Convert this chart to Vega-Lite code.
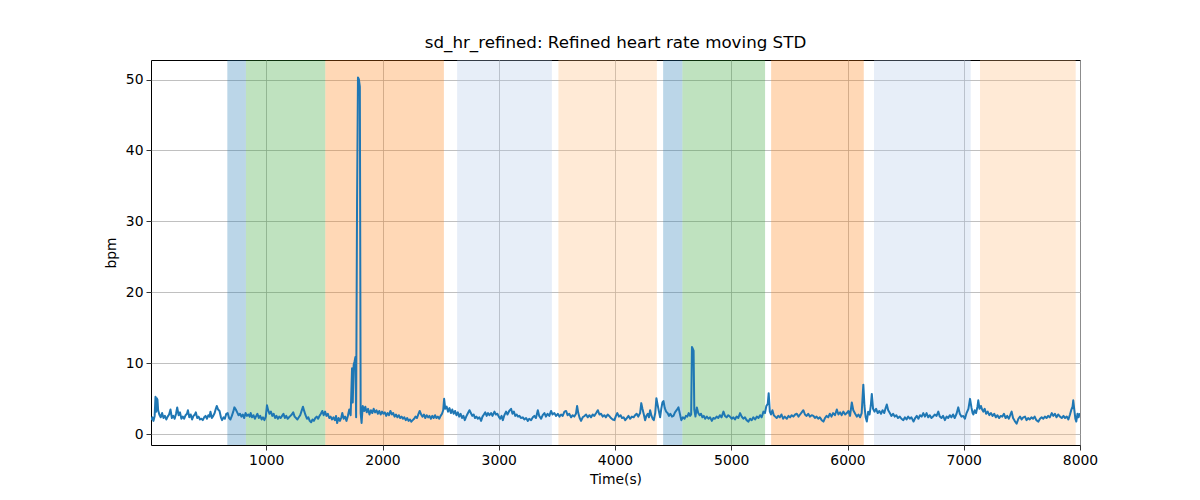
{
 "$schema": "https://vega.github.io/schema/vega-lite/v6.json",
 "width": 929,
 "height": 385,
 "autosize": {"type": "none"},
 "padding": {"left": 151, "top": 60, "right": 120, "bottom": 55},
 "title": {"text": "sd_hr_refined: Refined heart rate moving STD", "fontSize": 16.7, "fontWeight": "normal", "font": "DejaVu Sans", "color": "black", "offset": 8, "anchor": "middle"},
 "config": {
  "font": "DejaVu Sans",
  "view": {"stroke": "black", "strokeWidth": 1},
  "axis": {"domain": false, "grid": true, "gridColor": "#b0b0b0", "gridWidth": 0.8, "tickColor": "black", "tickSize": 5, "tickWidth": 0.8, "labelFontSize": 13.9, "labelColor": "black", "labelFont": "DejaVu Sans", "titleFontSize": 13.9, "titleFontWeight": "normal", "titleColor": "black", "titleFont": "DejaVu Sans", "labelPadding": 3, "zindex": 1}
 },
 "datasets": {
  "spans": [
   {"start": 665, "end": 825, "phase": "p1"},
   {"start": 825, "end": 1508, "phase": "p2"},
   {"start": 1508, "end": 2528, "phase": "p3"},
   {"start": 2642, "end": 3457, "phase": "p4"},
   {"start": 3513, "end": 4360, "phase": "p5"},
   {"start": 4414, "end": 4580, "phase": "p1"},
   {"start": 4580, "end": 5291, "phase": "p2"},
   {"start": 5343, "end": 6140, "phase": "p3"},
   {"start": 6228, "end": 7060, "phase": "p4"},
   {"start": 7140, "end": 7963, "phase": "p5"}
  ],
  "hr": [
{"t":10,"v":2.0},{"t":20,"v":2.4},{"t":30,"v":1.9},{"t":40,"v":2.6},{"t":47,"v":5.3},{"t":53,"v":3.2},{"t":58,"v":5.1},{"t":64,"v":4.9},{"t":70,"v":3.4},{"t":80,"v":2.8},{"t":92,"v":2.4},{"t":104,"v":3.0},{"t":116,"v":2.3},{"t":128,"v":2.6},{"t":140,"v":2.1},{"t":152,"v":2.5},{"t":164,"v":2.8},{"t":176,"v":3.5},{"t":188,"v":2.3},{"t":200,"v":2.6},{"t":212,"v":2.2},{"t":224,"v":2.9},{"t":234,"v":3.8},{"t":246,"v":2.7},{"t":258,"v":3.1},{"t":270,"v":2.2},{"t":282,"v":2.5},{"t":294,"v":2.2},{"t":306,"v":2.7},{"t":318,"v":2.9},{"t":326,"v":3.4},{"t":338,"v":2.4},{"t":350,"v":2.8},{"t":362,"v":2.1},{"t":374,"v":2.6},{"t":386,"v":2.8},{"t":394,"v":3.1},{"t":406,"v":2.3},{"t":418,"v":2.5},{"t":430,"v":2.1},{"t":442,"v":2.2},{"t":454,"v":2.0},{"t":466,"v":2.4},{"t":478,"v":2.6},{"t":490,"v":2.2},{"t":502,"v":2.7},{"t":512,"v":2.5},{"t":520,"v":3.2},{"t":532,"v":2.3},{"t":544,"v":2.6},{"t":556,"v":3.0},{"t":566,"v":3.6},{"t":574,"v":4.0},{"t":586,"v":3.5},{"t":598,"v":3.3},{"t":610,"v":2.4},{"t":620,"v":2.0},{"t":632,"v":2.4},{"t":644,"v":2.2},{"t":656,"v":2.9},{"t":668,"v":3.0},{"t":680,"v":2.3},{"t":692,"v":2.1},{"t":704,"v":2.6},{"t":716,"v":3.2},{"t":726,"v":3.8},{"t":738,"v":3.5},{"t":750,"v":3.1},{"t":762,"v":2.7},{"t":774,"v":2.9},{"t":786,"v":2.5},{"t":798,"v":2.8},{"t":810,"v":2.3},{"t":822,"v":3.0},{"t":834,"v":2.6},{"t":846,"v":2.8},{"t":858,"v":2.5},{"t":866,"v":3.0},{"t":878,"v":2.4},{"t":890,"v":2.7},{"t":902,"v":2.2},{"t":914,"v":2.6},{"t":924,"v":2.9},{"t":936,"v":2.3},{"t":948,"v":2.6},{"t":960,"v":2.1},{"t":972,"v":2.4},{"t":984,"v":2.0},{"t":996,"v":2.5},{"t":1006,"v":4.1},{"t":1016,"v":3.4},{"t":1028,"v":2.9},{"t":1040,"v":3.2},{"t":1052,"v":2.6},{"t":1064,"v":2.9},{"t":1076,"v":2.3},{"t":1088,"v":2.6},{"t":1100,"v":2.2},{"t":1112,"v":2.5},{"t":1124,"v":2.3},{"t":1136,"v":2.6},{"t":1148,"v":2.9},{"t":1160,"v":2.3},{"t":1172,"v":2.6},{"t":1184,"v":2.2},{"t":1196,"v":2.4},{"t":1208,"v":2.6},{"t":1220,"v":2.8},{"t":1232,"v":3.1},{"t":1244,"v":2.5},{"t":1256,"v":2.3},{"t":1268,"v":2.1},{"t":1280,"v":2.4},{"t":1292,"v":2.7},{"t":1304,"v":3.3},{"t":1316,"v":3.9},{"t":1326,"v":3.3},{"t":1338,"v":2.7},{"t":1350,"v":2.2},{"t":1362,"v":2.4},{"t":1374,"v":1.9},{"t":1386,"v":1.7},{"t":1398,"v":2.1},{"t":1410,"v":1.9},{"t":1422,"v":2.3},{"t":1434,"v":2.5},{"t":1446,"v":2.2},{"t":1458,"v":2.6},{"t":1470,"v":2.9},{"t":1482,"v":3.3},{"t":1494,"v":2.7},{"t":1506,"v":3.2},{"t":1518,"v":2.6},{"t":1530,"v":2.9},{"t":1542,"v":2.3},{"t":1554,"v":2.5},{"t":1566,"v":2.1},{"t":1578,"v":2.4},{"t":1590,"v":2.0},{"t":1600,"v":2.6},{"t":1610,"v":1.6},{"t":1622,"v":2.3},{"t":1634,"v":1.9},{"t":1646,"v":2.4},{"t":1654,"v":3.0},{"t":1666,"v":2.2},{"t":1678,"v":2.5},{"t":1690,"v":1.9},{"t":1702,"v":2.6},{"t":1714,"v":3.5},{"t":1726,"v":2.7},{"t":1738,"v":9.3},{"t":1744,"v":4.5},{"t":1752,"v":9.8},{"t":1760,"v":10.3},{"t":1767,"v":10.9},{"t":1773,"v":2.4},{"t":1781,"v":32.5},{"t":1789,"v":50.3},{"t":1797,"v":50.0},{"t":1805,"v":49.0},{"t":1812,"v":3.0},{"t":1820,"v":1.6},{"t":1830,"v":4.0},{"t":1842,"v":3.3},{"t":1852,"v":3.9},{"t":1864,"v":3.1},{"t":1876,"v":3.6},{"t":1888,"v":2.8},{"t":1900,"v":3.4},{"t":1912,"v":3.0},{"t":1924,"v":3.6},{"t":1936,"v":3.1},{"t":1948,"v":3.4},{"t":1960,"v":2.9},{"t":1972,"v":3.3},{"t":1984,"v":2.8},{"t":1996,"v":3.2},{"t":2008,"v":2.9},{"t":2020,"v":3.1},{"t":2032,"v":2.6},{"t":2044,"v":3.0},{"t":2056,"v":2.7},{"t":2068,"v":3.3},{"t":2080,"v":2.8},{"t":2092,"v":3.0},{"t":2104,"v":2.5},{"t":2116,"v":2.8},{"t":2128,"v":2.4},{"t":2140,"v":2.7},{"t":2152,"v":2.3},{"t":2164,"v":2.5},{"t":2176,"v":2.2},{"t":2188,"v":2.4},{"t":2200,"v":2.0},{"t":2212,"v":2.3},{"t":2224,"v":1.9},{"t":2236,"v":2.1},{"t":2248,"v":1.8},{"t":2260,"v":2.0},{"t":2272,"v":2.2},{"t":2284,"v":2.5},{"t":2296,"v":2.3},{"t":2308,"v":2.8},{"t":2320,"v":3.3},{"t":2332,"v":2.8},{"t":2344,"v":2.5},{"t":2356,"v":2.8},{"t":2368,"v":2.3},{"t":2380,"v":2.7},{"t":2392,"v":2.4},{"t":2404,"v":2.6},{"t":2416,"v":2.2},{"t":2428,"v":2.6},{"t":2440,"v":2.3},{"t":2452,"v":2.7},{"t":2464,"v":2.3},{"t":2476,"v":2.5},{"t":2488,"v":2.2},{"t":2500,"v":2.6},{"t":2512,"v":2.9},{"t":2522,"v":3.4},{"t":2530,"v":5.0},{"t":2540,"v":3.6},{"t":2552,"v":3.9},{"t":2564,"v":3.2},{"t":2576,"v":3.7},{"t":2588,"v":3.0},{"t":2600,"v":3.5},{"t":2612,"v":2.9},{"t":2624,"v":3.3},{"t":2636,"v":2.7},{"t":2648,"v":3.1},{"t":2660,"v":2.5},{"t":2672,"v":2.9},{"t":2684,"v":2.3},{"t":2696,"v":2.6},{"t":2708,"v":2.0},{"t":2720,"v":2.5},{"t":2732,"v":2.9},{"t":2748,"v":3.4},{"t":2760,"v":3.0},{"t":2772,"v":2.6},{"t":2784,"v":2.8},{"t":2796,"v":2.3},{"t":2808,"v":2.5},{"t":2820,"v":2.2},{"t":2834,"v":2.4},{"t":2848,"v":1.9},{"t":2860,"v":2.5},{"t":2872,"v":2.8},{"t":2884,"v":3.1},{"t":2896,"v":2.6},{"t":2908,"v":3.0},{"t":2920,"v":2.7},{"t":2934,"v":3.0},{"t":2946,"v":2.6},{"t":2963,"v":3.2},{"t":2975,"v":2.8},{"t":2988,"v":2.9},{"t":3000,"v":2.5},{"t":3012,"v":2.2},{"t":3024,"v":2.6},{"t":3035,"v":2.0},{"t":3048,"v":2.7},{"t":3063,"v":3.2},{"t":3075,"v":2.8},{"t":3090,"v":3.3},{"t":3106,"v":3.6},{"t":3118,"v":2.9},{"t":3130,"v":3.2},{"t":3142,"v":2.6},{"t":3154,"v":2.8},{"t":3166,"v":2.5},{"t":3178,"v":2.6},{"t":3190,"v":2.3},{"t":3207,"v":2.4},{"t":3220,"v":2.1},{"t":3235,"v":2.3},{"t":3250,"v":1.9},{"t":3262,"v":2.2},{"t":3278,"v":2.0},{"t":3293,"v":2.4},{"t":3306,"v":2.6},{"t":3320,"v":2.3},{"t":3336,"v":3.4},{"t":3348,"v":2.6},{"t":3364,"v":2.2},{"t":3378,"v":2.7},{"t":3393,"v":3.0},{"t":3406,"v":2.5},{"t":3420,"v":2.9},{"t":3435,"v":2.6},{"t":3450,"v":3.3},{"t":3462,"v":2.8},{"t":3478,"v":3.0},{"t":3493,"v":2.6},{"t":3508,"v":2.9},{"t":3522,"v":2.5},{"t":3536,"v":2.8},{"t":3550,"v":2.6},{"t":3565,"v":3.2},{"t":3579,"v":3.3},{"t":3592,"v":2.7},{"t":3606,"v":2.9},{"t":3622,"v":2.4},{"t":3636,"v":2.7},{"t":3650,"v":2.5},{"t":3664,"v":2.9},{"t":3674,"v":4.0},{"t":3684,"v":3.0},{"t":3696,"v":2.3},{"t":3708,"v":1.9},{"t":3722,"v":2.4},{"t":3737,"v":2.6},{"t":3751,"v":2.8},{"t":3765,"v":2.4},{"t":3780,"v":2.7},{"t":3794,"v":2.4},{"t":3808,"v":2.8},{"t":3822,"v":2.6},{"t":3838,"v":3.0},{"t":3852,"v":3.4},{"t":3866,"v":2.8},{"t":3880,"v":2.9},{"t":3894,"v":2.5},{"t":3908,"v":2.7},{"t":3922,"v":2.4},{"t":3937,"v":2.8},{"t":3950,"v":2.6},{"t":3965,"v":2.3},{"t":3980,"v":2.1},{"t":3995,"v":2.0},{"t":4008,"v":2.6},{"t":4020,"v":3.0},{"t":4034,"v":2.5},{"t":4048,"v":2.7},{"t":4060,"v":2.3},{"t":4074,"v":2.4},{"t":4088,"v":2.0},{"t":4102,"v":2.3},{"t":4116,"v":2.6},{"t":4130,"v":2.2},{"t":4145,"v":2.5},{"t":4160,"v":2.4},{"t":4173,"v":2.7},{"t":4186,"v":2.9},{"t":4200,"v":2.5},{"t":4216,"v":3.0},{"t":4226,"v":4.4},{"t":4236,"v":3.6},{"t":4248,"v":2.8},{"t":4259,"v":2.0},{"t":4270,"v":2.6},{"t":4282,"v":2.9},{"t":4292,"v":2.4},{"t":4302,"v":3.4},{"t":4314,"v":2.6},{"t":4324,"v":2.2},{"t":4334,"v":2.0},{"t":4346,"v":3.0},{"t":4356,"v":5.1},{"t":4366,"v":4.2},{"t":4378,"v":3.2},{"t":4388,"v":2.4},{"t":4398,"v":3.6},{"t":4408,"v":4.5},{"t":4417,"v":4.7},{"t":4428,"v":3.7},{"t":4440,"v":3.2},{"t":4452,"v":3.0},{"t":4464,"v":2.6},{"t":4476,"v":2.9},{"t":4490,"v":2.5},{"t":4503,"v":2.6},{"t":4516,"v":3.1},{"t":4530,"v":3.4},{"t":4546,"v":3.8},{"t":4558,"v":2.9},{"t":4570,"v":2.0},{"t":4584,"v":2.4},{"t":4598,"v":2.2},{"t":4610,"v":2.6},{"t":4622,"v":2.5},{"t":4634,"v":3.0},{"t":4646,"v":2.6},{"t":4655,"v":2.8},{"t":4662,"v":12.3},{"t":4668,"v":12.1},{"t":4676,"v":11.8},{"t":4682,"v":3.5},{"t":4692,"v":2.5},{"t":4704,"v":3.8},{"t":4716,"v":3.0},{"t":4728,"v":2.7},{"t":4740,"v":2.9},{"t":4752,"v":2.4},{"t":4764,"v":2.6},{"t":4776,"v":2.2},{"t":4790,"v":2.5},{"t":4804,"v":2.2},{"t":4818,"v":2.4},{"t":4833,"v":1.9},{"t":4846,"v":2.3},{"t":4860,"v":2.2},{"t":4874,"v":2.5},{"t":4888,"v":2.3},{"t":4902,"v":2.7},{"t":4916,"v":2.4},{"t":4933,"v":3.2},{"t":4946,"v":2.6},{"t":4960,"v":2.4},{"t":4974,"v":2.7},{"t":4988,"v":2.5},{"t":5005,"v":2.2},{"t":5018,"v":2.4},{"t":5032,"v":2.1},{"t":5046,"v":2.5},{"t":5060,"v":2.3},{"t":5076,"v":3.0},{"t":5090,"v":2.5},{"t":5104,"v":2.2},{"t":5118,"v":2.4},{"t":5132,"v":2.0},{"t":5148,"v":1.8},{"t":5162,"v":2.2},{"t":5176,"v":2.0},{"t":5190,"v":2.4},{"t":5205,"v":2.1},{"t":5220,"v":2.5},{"t":5234,"v":2.3},{"t":5248,"v":2.7},{"t":5262,"v":2.4},{"t":5277,"v":3.2},{"t":5290,"v":3.0},{"t":5302,"v":4.0},{"t":5314,"v":4.3},{"t":5322,"v":5.8},{"t":5332,"v":3.2},{"t":5342,"v":2.8},{"t":5354,"v":3.4},{"t":5366,"v":2.7},{"t":5378,"v":2.5},{"t":5391,"v":2.3},{"t":5404,"v":2.6},{"t":5418,"v":2.4},{"t":5432,"v":2.8},{"t":5446,"v":2.2},{"t":5460,"v":2.5},{"t":5478,"v":2.2},{"t":5492,"v":2.6},{"t":5506,"v":2.4},{"t":5520,"v":2.7},{"t":5534,"v":2.5},{"t":5550,"v":2.8},{"t":5564,"v":2.9},{"t":5578,"v":2.5},{"t":5592,"v":2.8},{"t":5606,"v":3.1},{"t":5620,"v":3.4},{"t":5634,"v":2.8},{"t":5648,"v":2.6},{"t":5662,"v":2.9},{"t":5676,"v":2.5},{"t":5692,"v":2.7},{"t":5707,"v":2.6},{"t":5720,"v":2.3},{"t":5734,"v":2.5},{"t":5748,"v":2.2},{"t":5762,"v":2.4},{"t":5778,"v":2.0},{"t":5793,"v":1.8},{"t":5806,"v":2.3},{"t":5820,"v":2.6},{"t":5834,"v":2.4},{"t":5848,"v":2.9},{"t":5862,"v":2.5},{"t":5876,"v":3.0},{"t":5892,"v":2.7},{"t":5908,"v":3.5},{"t":5922,"v":2.8},{"t":5936,"v":3.1},{"t":5950,"v":2.7},{"t":5964,"v":3.2},{"t":5980,"v":2.8},{"t":5994,"v":3.0},{"t":6008,"v":3.3},{"t":6022,"v":2.6},{"t":6037,"v":4.5},{"t":6050,"v":3.4},{"t":6066,"v":2.9},{"t":6080,"v":2.5},{"t":6094,"v":2.8},{"t":6108,"v":2.4},{"t":6122,"v":3.0},{"t":6136,"v":7.0},{"t":6146,"v":4.0},{"t":6156,"v":2.4},{"t":6166,"v":1.8},{"t":6178,"v":3.2},{"t":6190,"v":2.8},{"t":6200,"v":4.0},{"t":6209,"v":5.7},{"t":6220,"v":3.6},{"t":6232,"v":3.2},{"t":6246,"v":3.6},{"t":6260,"v":3.0},{"t":6274,"v":3.3},{"t":6288,"v":2.9},{"t":6302,"v":3.4},{"t":6316,"v":3.0},{"t":6328,"v":3.7},{"t":6338,"v":4.2},{"t":6350,"v":3.4},{"t":6364,"v":3.0},{"t":6378,"v":2.6},{"t":6392,"v":2.9},{"t":6406,"v":2.5},{"t":6420,"v":2.7},{"t":6434,"v":2.3},{"t":6450,"v":2.5},{"t":6464,"v":2.2},{"t":6480,"v":2.0},{"t":6494,"v":2.4},{"t":6508,"v":2.1},{"t":6522,"v":2.5},{"t":6536,"v":2.2},{"t":6550,"v":2.4},{"t":6568,"v":1.8},{"t":6582,"v":2.3},{"t":6596,"v":2.6},{"t":6610,"v":2.2},{"t":6624,"v":2.7},{"t":6638,"v":2.5},{"t":6652,"v":3.0},{"t":6666,"v":2.5},{"t":6680,"v":3.0},{"t":6694,"v":2.4},{"t":6708,"v":2.7},{"t":6722,"v":2.3},{"t":6736,"v":2.5},{"t":6750,"v":2.8},{"t":6766,"v":2.6},{"t":6781,"v":3.2},{"t":6794,"v":2.5},{"t":6808,"v":2.3},{"t":6822,"v":2.6},{"t":6838,"v":2.0},{"t":6852,"v":2.5},{"t":6866,"v":2.3},{"t":6880,"v":2.7},{"t":6894,"v":2.4},{"t":6908,"v":2.8},{"t":6922,"v":2.3},{"t":6938,"v":2.9},{"t":6953,"v":3.8},{"t":6966,"v":2.9},{"t":6980,"v":2.5},{"t":6996,"v":2.6},{"t":7010,"v":2.2},{"t":7024,"v":3.0},{"t":7040,"v":3.6},{"t":7054,"v":5.0},{"t":7066,"v":3.8},{"t":7076,"v":3.0},{"t":7083,"v":2.8},{"t":7094,"v":3.4},{"t":7106,"v":3.0},{"t":7118,"v":3.9},{"t":7125,"v":4.8},{"t":7136,"v":3.6},{"t":7148,"v":4.0},{"t":7158,"v":3.5},{"t":7168,"v":3.2},{"t":7180,"v":3.6},{"t":7192,"v":2.9},{"t":7206,"v":3.2},{"t":7220,"v":2.7},{"t":7234,"v":3.0},{"t":7248,"v":2.6},{"t":7262,"v":2.9},{"t":7276,"v":2.4},{"t":7290,"v":2.7},{"t":7304,"v":2.3},{"t":7318,"v":2.6},{"t":7332,"v":2.5},{"t":7346,"v":2.9},{"t":7360,"v":2.3},{"t":7374,"v":2.6},{"t":7388,"v":2.2},{"t":7402,"v":2.8},{"t":7412,"v":3.2},{"t":7424,"v":2.3},{"t":7438,"v":1.9},{"t":7455,"v":1.5},{"t":7470,"v":2.2},{"t":7484,"v":2.5},{"t":7498,"v":2.1},{"t":7512,"v":2.4},{"t":7527,"v":2.5},{"t":7540,"v":2.0},{"t":7554,"v":2.3},{"t":7568,"v":2.1},{"t":7582,"v":2.4},{"t":7596,"v":2.2},{"t":7610,"v":2.5},{"t":7624,"v":2.0},{"t":7642,"v":1.8},{"t":7656,"v":2.2},{"t":7670,"v":2.4},{"t":7684,"v":2.2},{"t":7698,"v":2.5},{"t":7712,"v":2.3},{"t":7726,"v":2.6},{"t":7740,"v":2.4},{"t":7757,"v":3.0},{"t":7770,"v":2.6},{"t":7784,"v":2.9},{"t":7798,"v":2.4},{"t":7812,"v":2.8},{"t":7828,"v":2.5},{"t":7843,"v":2.3},{"t":7858,"v":2.6},{"t":7872,"v":2.3},{"t":7886,"v":2.5},{"t":7900,"v":2.1},{"t":7914,"v":2.8},{"t":7926,"v":3.5},{"t":7936,"v":3.9},{"t":7942,"v":4.8},{"t":7952,"v":3.3},{"t":7960,"v":2.2},{"t":7968,"v":1.8},{"t":7978,"v":2.9},{"t":7988,"v":2.4},{"t":7998,"v":3.0}
  ]
 },
 "layer": [
  {
   "data": {"name": "spans"},
   "mark": {"type": "rect", "opacity": 0.3},
   "encoding": {
    "x": {"field": "start", "type": "quantitative", "scale": {"domain": [8.5, 8000], "nice": false, "zero": false}, "axis": {"title": "Time(s)", "values": [1000, 2000, 3000, 4000, 5000, 6000, 7000, 8000], "format": "d", "titlePadding": 6, "labelFlush": false}},
    "x2": {"field": "end"},
    "color": {"field": "phase", "type": "nominal", "scale": {"domain": ["p1", "p2", "p3", "p4", "p5"], "range": ["#1f77b4", "#2ca02c", "#ff7f0e", "#aec7e8", "#ffbb78"]}, "legend": null}
   }
  },
  {
   "data": {"name": "hr"},
   "mark": {"type": "line", "color": "#1f77b4", "strokeWidth": 2, "strokeJoin": "round", "clip": true},
   "encoding": {
    "x": {"field": "t", "type": "quantitative"},
    "y": {"field": "v", "type": "quantitative", "scale": {"domain": [-1.5, 52.75], "nice": false, "zero": false}, "axis": {"title": "bpm", "values": [0, 10, 20, 30, 40, 50], "titlePadding": 7}}
   }
  }
 ]
}
